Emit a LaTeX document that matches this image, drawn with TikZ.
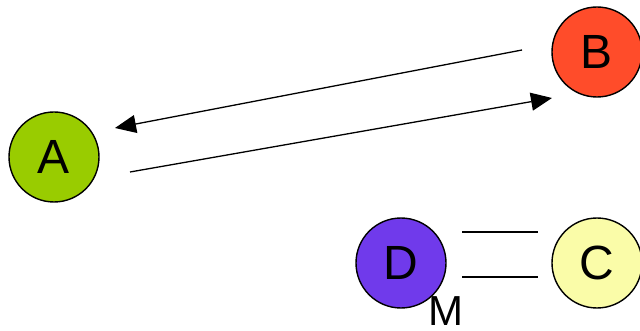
\documentclass[tikz,border=0pt]{standalone}
\usepackage{fontspec}
\setmainfont{Liberation Sans}
\usetikzlibrary{arrows.meta}
\definecolor{cA}{RGB}{153,204,0}
\definecolor{cB}{RGB}{255,76,42}
\definecolor{cC}{RGB}{250,252,168}
\definecolor{cD}{RGB}{112,58,235}
\begin{document}
\begin{tikzpicture}[x=1pt,y=-1pt,
  ball/.style={circle,draw=black,line width=1.4pt,minimum size=90pt,inner sep=0pt,font=\fontsize{48}{48}\selectfont},
  conn/.style={line width=1.3pt},
  tip/.style={conn,-{Triangle[length=21pt,width=18pt]}}]
\clip (0,0) rectangle (640,331);
\useasboundingbox (0,0) rectangle (640,331);
\node[ball,fill=cA] (A) at (54,157) {A};
\node[ball,fill=cB] (B) at (597,52) {B};
\node[ball,fill=cD] (D) at (401,263) {D};
\node[ball,fill=cC] (C) at (597,263) {C};
\node[font=\fontsize{42}{42}\selectfont,anchor=north] (M) at (446,293) {M};
\coordinate (b1) at (522,50);
\coordinate (a1) at (115,128);
\coordinate (a2) at (130,172);
\coordinate (b2) at (552,98);
\coordinate (d1) at (462,232);
\coordinate (c1) at (538,232);
\coordinate (d2) at (462,277);
\coordinate (c2) at (538,277);
\draw[tip] (b1) -- (a1);
\draw[tip] (a2) -- (b2);
\draw[conn] (d1) -- (c1);
\draw[conn] (d2) -- (c2);
\end{tikzpicture}
\end{document}
